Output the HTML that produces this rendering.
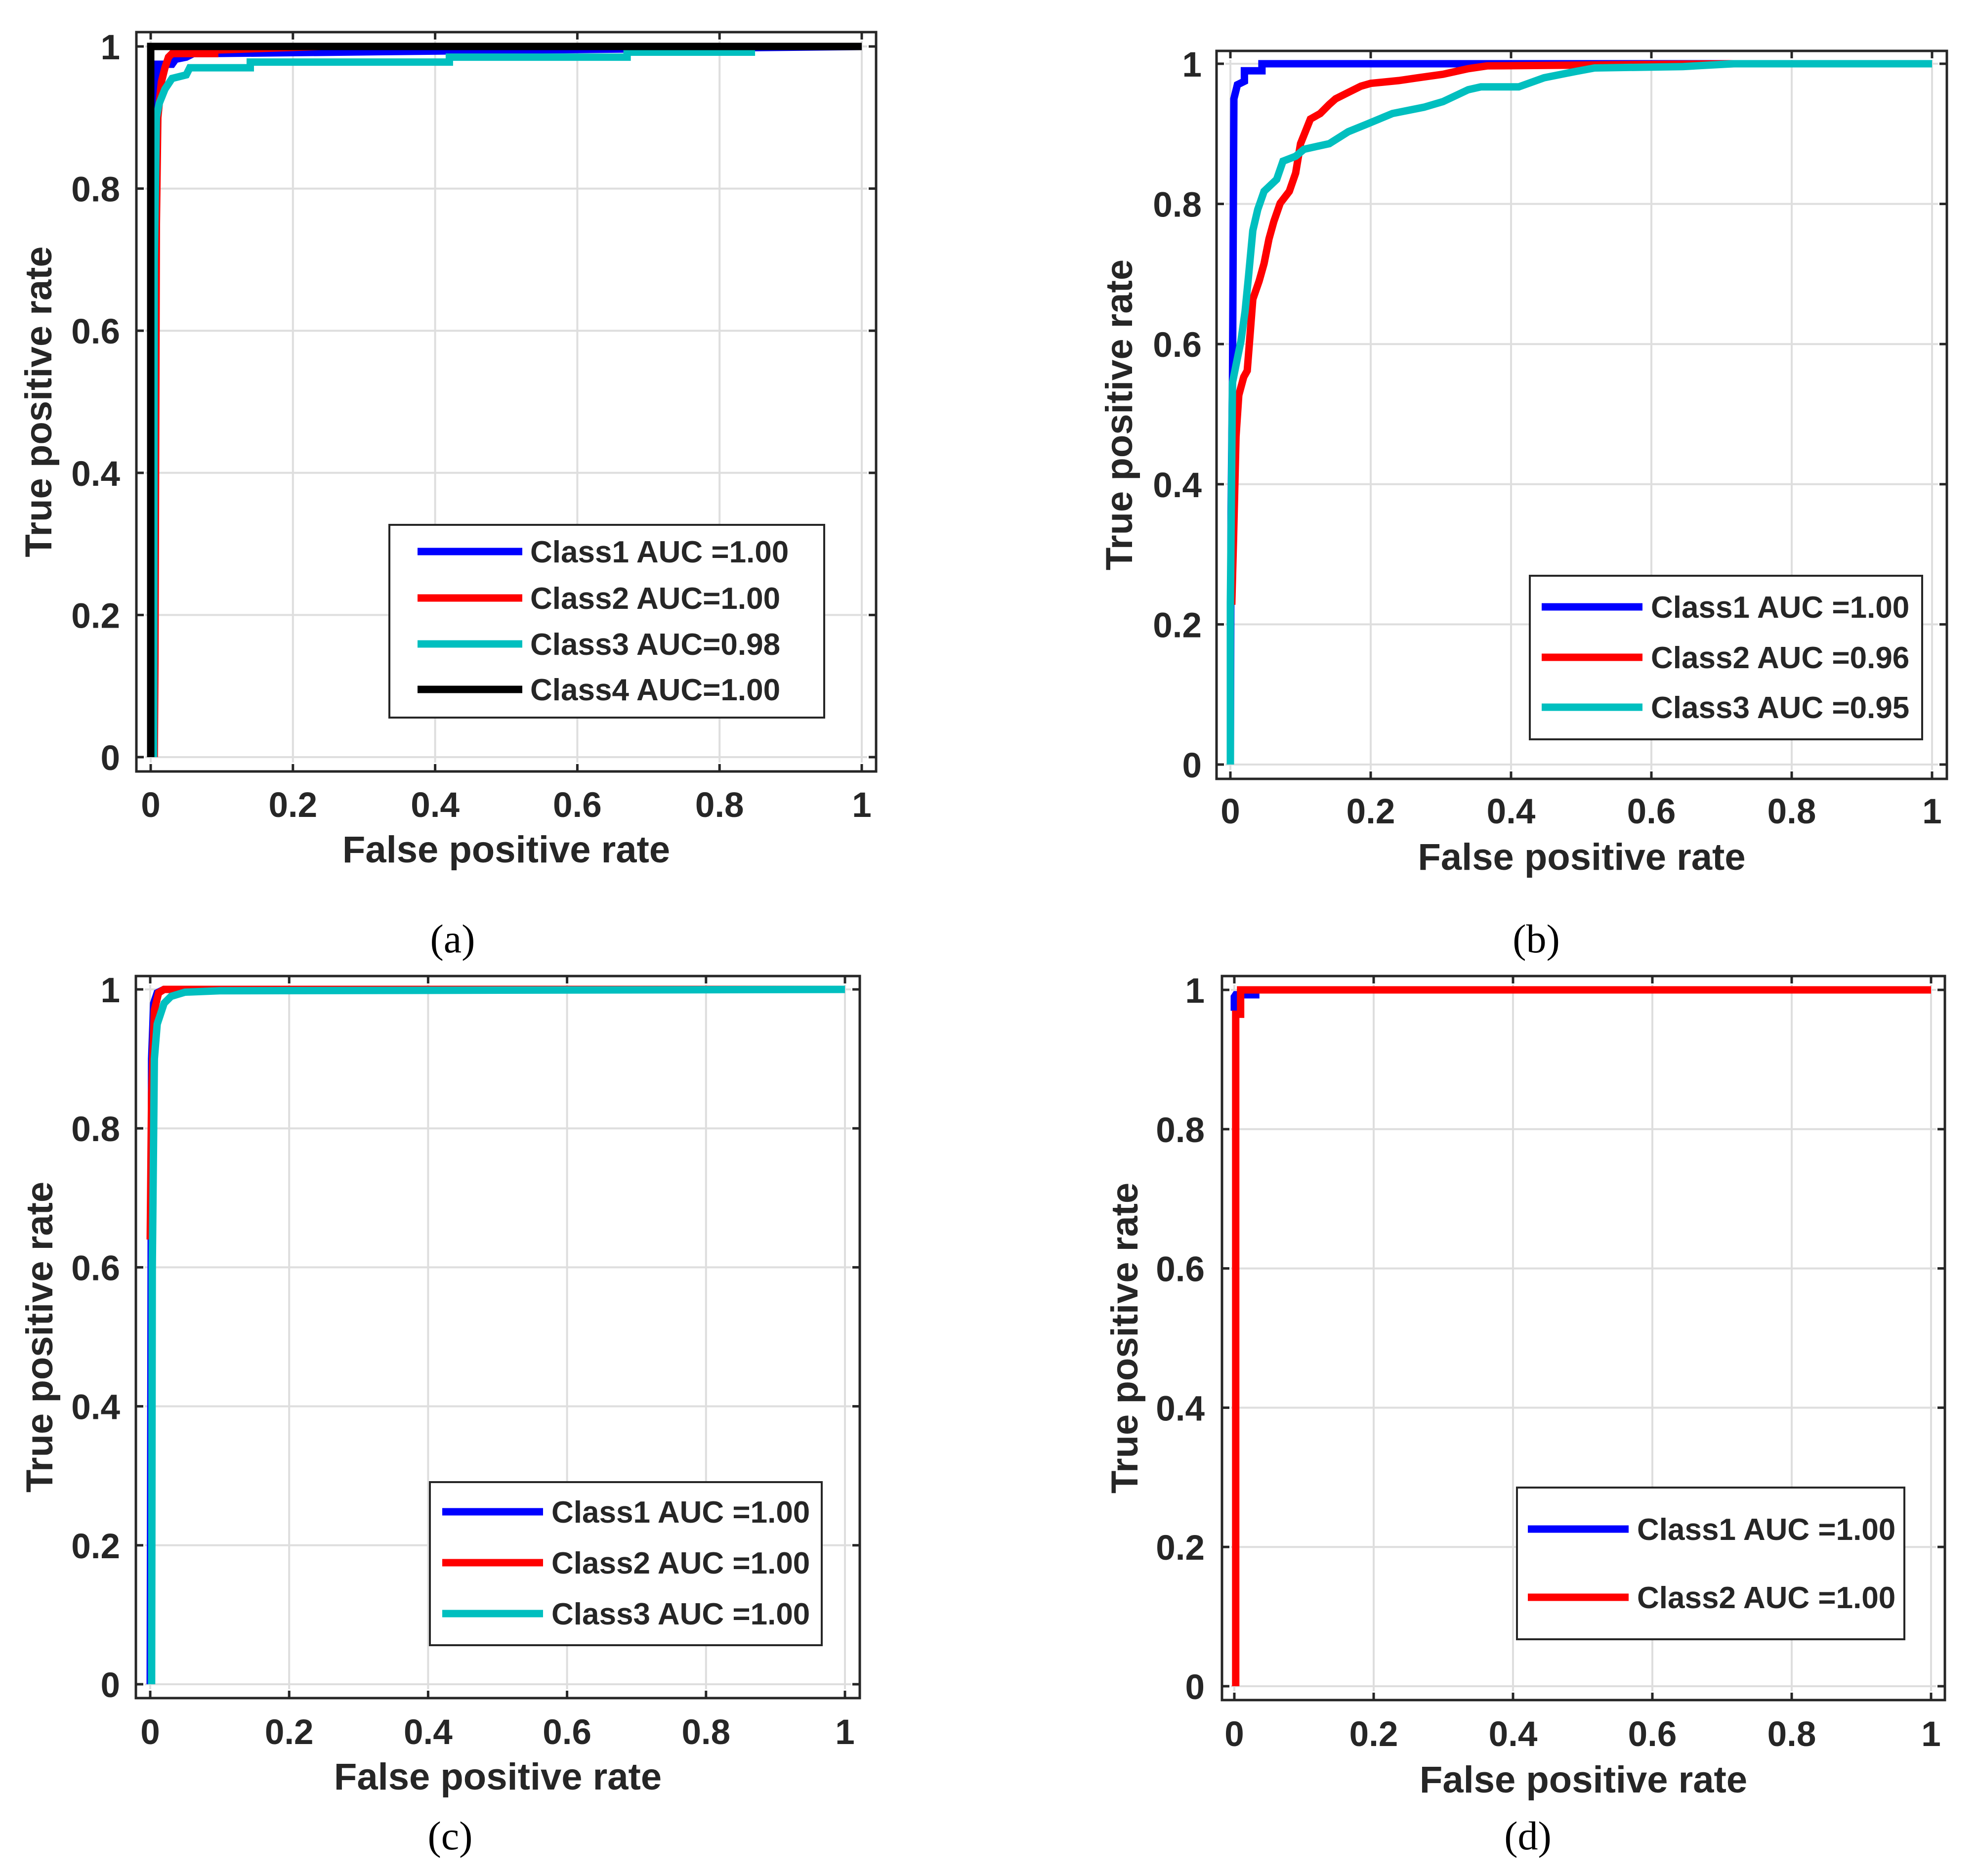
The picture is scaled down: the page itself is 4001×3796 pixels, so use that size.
<!DOCTYPE html>
<html><head><meta charset="utf-8">
<style>
html,body{margin:0;padding:0;background:#fff;}
svg{display:block;}
text{font-family:"Liberation Sans",Arial,sans-serif;font-weight:bold;fill:#262626;}
.cap{font-family:"Liberation Serif",serif;font-weight:normal;fill:#000;}
</style></head>
<body>
<svg id="fig" width="4001" height="3796" viewBox="0 0 4001 3796" xmlns="http://www.w3.org/2000/svg"></svg>
<script>
// ---- data ----
const xTicks = [0, 0.2, 0.4, 0.6, 0.8, 1];
const yTicks = [0, 0.2, 0.4, 0.6, 0.8, 1];
const xTickLabels = ["0", "0.2", "0.4", "0.6", "0.8", "1"];
const yTickLabels = ["0", "0.2", "0.4", "0.6", "0.8", "1"];

// panel (a)
const aNames = ["Class1 AUC =1.00", "Class2 AUC=1.00", "Class3 AUC=0.98", "Class4 AUC=1.00"];
const aC1x = [0, 0.003, 0.01, 0.03, 0.035, 0.05, 0.06, 0.08, 1];
const aC1y = [0, 0.9, 0.975, 0.975, 0.982, 0.985, 0.99, 0.99, 1];
const aC2x = [0.005, 0.006, 0.008, 0.01, 0.015, 0.02, 0.025, 0.03, 0.09, 0.09, 0.24, 1];
const aC2y = [0, 0.14, 0.75, 0.9, 0.95, 0.97, 0.985, 0.99, 0.99, 0.995, 1, 1];
const aC3x = [0.004, 0.005, 0.008, 0.012, 0.02, 0.03, 0.05, 0.055, 0.14, 0.14, 0.42, 0.42, 0.67, 0.67, 0.85];
const aC3y = [0, 0.7, 0.9, 0.92, 0.94, 0.955, 0.96, 0.97, 0.97, 0.978, 0.978, 0.985, 0.985, 0.992, 0.992];
const aC4x = [0, 0, 1];
const aC4y = [0, 1, 1];

// panel (b)
const bNames = ["Class1 AUC =1.00", "Class2 AUC =0.96", "Class3 AUC =0.95"];
const bC1x = [0, 0.001, 0.003, 0.005, 0.01, 0.02, 0.02, 0.045, 0.045, 1];
const bC1y = [0, 0.36, 0.55, 0.95, 0.97, 0.975, 0.99, 0.99, 1, 1];
const bC2x = [0.002, 0.0045, 0.008, 0.012, 0.019, 0.024, 0.028, 0.032, 0.041, 0.048, 0.055, 0.062, 0.071, 0.084, 0.093, 0.1, 0.114, 0.128, 0.141, 0.15, 0.168, 0.186, 0.2, 0.24, 0.267, 0.303, 0.339, 0.366, 0.72, 1];
const bC2y = [0.228, 0.322, 0.468, 0.527, 0.553, 0.562, 0.613, 0.664, 0.69, 0.715, 0.75, 0.775, 0.801, 0.818, 0.844, 0.886, 0.921, 0.929, 0.942, 0.95, 0.959, 0.968, 0.972, 0.976, 0.98, 0.985, 0.993, 0.997, 1, 1];
const bC3x = [0, 0, 0.003, 0.008, 0.015, 0.021, 0.026, 0.032, 0.039, 0.048, 0.066, 0.075, 0.093, 0.105, 0.141, 0.168, 0.195, 0.231, 0.276, 0.303, 0.339, 0.357, 0.411, 0.447, 0.492, 0.519, 0.645, 0.717, 1];
const bC3y = [0, 0.23, 0.545, 0.57, 0.604, 0.647, 0.698, 0.762, 0.792, 0.818, 0.835, 0.861, 0.868, 0.878, 0.886, 0.903, 0.914, 0.929, 0.938, 0.946, 0.963, 0.967, 0.967, 0.98, 0.989, 0.994, 0.996, 1, 1];

// panel (c)
const cNames = ["Class1 AUC =1.00", "Class2 AUC =1.00", "Class3 AUC =1.00"];
const cC1x = [0, 0.002, 0.005, 0.01, 0.02, 1];
const cC1y = [0, 0.9, 0.98, 0.995, 1, 1];
const cC2x = [0, 0.002, 0.006, 0.012, 0.02, 1];
const cC2y = [0.64, 0.85, 0.97, 0.995, 1, 1];
const cC3x = [0.002, 0.003, 0.006, 0.01, 0.02, 0.03, 0.05, 0.1, 1];
const cC3y = [0, 0.6, 0.9, 0.95, 0.98, 0.99, 0.996, 0.998, 1];

// panel (d)
const dNames = ["Class1 AUC =1.00", "Class2 AUC =1.00"];
const dC1x = [0, 0, 0.002, 0.036];
const dC1y = [0.97, 0.99, 0.993, 0.993];
const dC2x = [0.002, 0.002, 0.009, 0.009, 1];
const dC2y = [0, 0.965, 0.965, 1, 1];

const NS = "http://www.w3.org/2000/svg";
const svg = document.getElementById("fig");
function mk(tag, attrs, parent) {
  const e = document.createElementNS(NS, tag);
  for (const k in attrs) e.setAttribute(k, attrs[k]);
  (parent || svg).appendChild(e);
  return e;
}

const panels = [
  {id:"a", box:[276,65,1773,1561], x0:305, x1:1744, y0:1532, y1:94,
   series:[[aC1x,aC1y,"#0000ff"],[aC2x,aC2y,"#ff0000"],[aC3x,aC3y,"#00bfbf"],[aC4x,aC4y,"#000000"]], names:aNames,
   leg:[788,1062,1668,1452], legY:[1116,1210,1303,1395], legLine:[845,1057], legText:1073,
   ylabR:243, ytitleX:77, xlabY:1627, xtitleY:1718, cap:[916,1900]},
  {id:"b", box:[2462,103,3940,1576], x0:2490, x1:3910, y0:1547, y1:129,
   series:[[bC1x,bC1y,"#0000ff"],[bC2x,bC2y,"#ff0000"],[bC3x,bC3y,"#00bfbf"]], names:bNames,
   leg:[3096,1165,3890,1496], legY:[1228,1330,1431], legLine:[3120,3324], legText:3341,
   ylabR:2432, ytitleX:2264, xlabY:1640, xtitleY:1733, cap:[3109,1900]},
  {id:"c", box:[275,1975,1740,3436], x0:304, x1:1710, y0:3408, y1:2002,
   series:[[cC1x,cC1y,"#0000ff"],[cC2x,cC2y,"#ff0000"],[cC3x,cC3y,"#00bfbf"]], names:cNames,
   leg:[870,2999,1663,3329], legY:[3059,3162,3265], legLine:[895,1099], legText:1116,
   ylabR:243, ytitleX:79, xlabY:3503, xtitleY:3594, cap:[911,3715]},
  {id:"d", box:[2473,1975,3936,3440], x0:2498, x1:3908, y0:3412, y1:2003,
   series:[[dC1x,dC1y,"#0000ff"],[dC2x,dC2y,"#ff0000"]], names:dNames,
   leg:[3070,3010,3854,3317], legY:[3094,3232], legLine:[3092,3296], legText:3313,
   ylabR:2438, ytitleX:2275, xlabY:3507, xtitleY:3600, cap:[3092,3715]}
];

panels.forEach(p => {
  const g = mk("g", {});
  
  
  const sx = v => p.x0 + v * (p.x1 - p.x0);
  const sy = v => p.y0 - v * (p.y0 - p.y1);
  const [L,T,R,B] = p.box;
  xTicks.forEach(t => { const l = mk("line", {x1:sx(t), x2:sx(t), y1:T+18, y2:B-18, stroke:"#dedede", "stroke-width":4}, g);
      });
  yTicks.forEach(t => { const l = mk("line", {x1:L+18, x2:R-18, y1:sy(t), y2:sy(t), stroke:"#dedede", "stroke-width":4}, g);
      });
  p.series.forEach((s, i) => {
    const pts = s[0].map((x, k) => sx(x).toFixed(1) + "," + sy(s[1][k]).toFixed(1)).join(" ");
    const pl = mk("polyline", {points:pts, fill:"none", stroke:s[2], "stroke-width":15, "stroke-linejoin":"miter", "stroke-linecap":"butt"}, g);
    
    
  });
  const bx = mk("rect", {x:L, y:T, width:R-L, height:B-T, fill:"none", stroke:"#262626", "stroke-width":5}, g);
   
  xTicks.forEach((t, i) => {
    mk("line", {x1:sx(t), x2:sx(t), y1:B, y2:B-15, stroke:"#262626", "stroke-width":5}, g);
    mk("line", {x1:sx(t), x2:sx(t), y1:T, y2:T+15, stroke:"#262626", "stroke-width":5}, g);
    const tx = mk("text", {x:sx(t), y:p.xlabY + 26, "text-anchor":"middle", "font-size":71}, g);
    tx.textContent = xTickLabels[i];
     
  });
  yTicks.forEach((t, i) => {
    mk("line", {x1:L, x2:L+15, y1:sy(t), y2:sy(t), stroke:"#262626", "stroke-width":5}, g);
    mk("line", {x1:R, x2:R-15, y1:sy(t), y2:sy(t), stroke:"#262626", "stroke-width":5}, g);
    const tx = mk("text", {x:p.ylabR, y:sy(t) + 26, "text-anchor":"end", "font-size":71}, g);
    tx.textContent = yTickLabels[i];
     
  });
  const xt = mk("text", {x:(L+R)/2, y:p.xtitleY + 27, "text-anchor":"middle", "font-size":76}, g);
  xt.textContent = "False positive rate";
   
  const cy = (T+B)/2;
  const yt = mk("text", {x:p.ytitleX + 27, y:cy, "text-anchor":"middle", "font-size":76, transform:"rotate(-90 " + (p.ytitleX + 27) + " " + cy + ")"}, g);
  yt.textContent = "True positive rate";
   
  const [lx1, ly1, lx2, ly2] = p.leg;
  const lg = mk("g", {}, g);
   
  mk("rect", {x:lx1, y:ly1, width:lx2-lx1, height:ly2-ly1, fill:"#fff", stroke:"#262626", "stroke-width":4}, lg);
  p.names.forEach((n, i) => {
    const y = p.legY[i];
    const ln = mk("line", {x1:p.legLine[0], x2:p.legLine[1], y1:y, y2:y, stroke:p.series[i][2], "stroke-width":15}, lg);
     
    const t = mk("text", {x:p.legText, y:y + 22, "font-size":62, fill:"#000"}, lg);
    t.textContent = n;
     
  });
  const cp = mk("text", {x:p.cap[0], y:p.cap[1] + 27, "text-anchor":"middle", "font-size":82, "class":"cap"}, g);
  cp.textContent = "(" + p.id + ")";
   
});
</script>
</body></html>
